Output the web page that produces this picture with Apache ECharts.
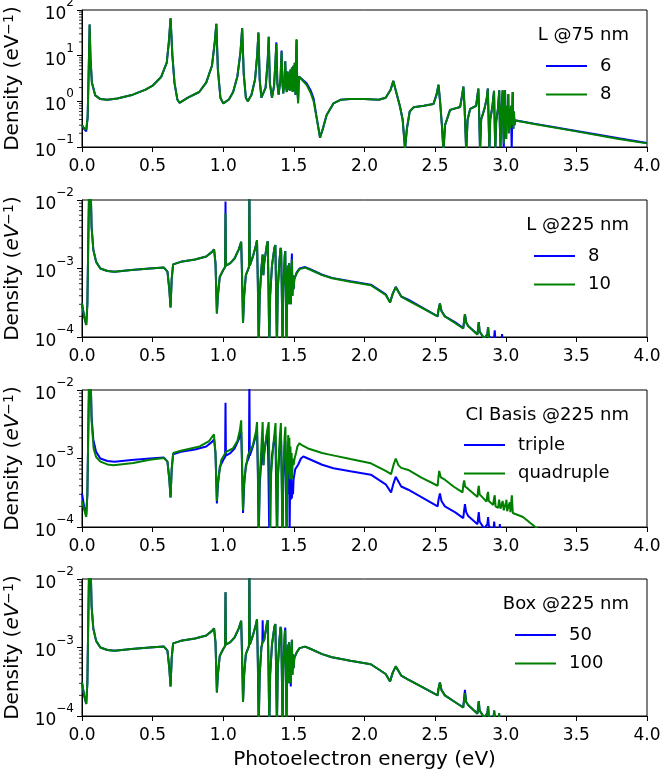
<!DOCTYPE html>
<html>
<head>
<meta charset="utf-8">
<script src="https://cdn.jsdelivr.net/npm/echarts@6/dist/echarts.min.js"></script>
<style>
    html, body { margin: 0; padding: 0; background: #fff; }
    #charts { width: 662px; height: 769px; }
</style>
</head>
<body>
<div id="charts"></div>
<script>
// minor ticks of the log axes
var minorTop = [0.2,0.3,0.4,0.5,0.6,0.7,0.8,0.9,2,3,4,5,6,7,8,9,20,30,40,50,60,70,80,90];
var minorLow = [2e-4,3e-4,4e-4,5e-4,6e-4,7e-4,8e-4,9e-4,2e-3,3e-3,4e-3,5e-3,6e-3,7e-3,8e-3,9e-3];

// panel 1 : L @75 nm
var l75_6 = [
    [0.000,0.30],[0.015,0.25],[0.030,0.22],[0.040,0.45],[0.047,4.0],[0.054,48],[0.060,9],[0.070,2.6],[0.094,1.35],[0.130,1.12],
    [0.180,1.08],[0.250,1.15],[0.360,1.40],[0.450,1.80],[0.500,2.20],[0.560,3.40],[0.600,7.0],[0.615,20],[0.627,66],[0.640,10],
    [0.655,2.5],[0.675,1.10],[0.690,0.93],[0.750,1.20],[0.830,1.60],[0.880,2.60],[0.920,6.0],[0.940,20],[0.951,50],[0.962,5],
    [0.980,1.20],[1.000,0.90],[1.040,1.10],[1.070,1.60],[1.100,3.5],[1.122,12],[1.134,40],[1.145,4],[1.160,1.2],[1.174,1.0],
    [1.200,1.4],[1.225,3],[1.240,10],[1.249,32],[1.258,3],[1.270,1.2],[1.282,1.1],[1.300,2],[1.315,8],[1.322,26],
    [1.330,2.5],[1.345,1.2],[1.360,2.2],[1.370,8],[1.376,19.5],[1.383,2.5],[1.392,1.4],[1.405,3],[1.413,13],[1.419,2.5],
    [1.425,1.5],[1.434,3],[1.439,7.5],[1.444,2.2],[1.450,1.6],[1.456,4.5],[1.461,1.8],[1.466,4],[1.471,1.7],[1.476,5],
    [1.481,1.8],[1.486,5.5],[1.491,1.6],[1.496,6],[1.501,1.7],[1.506,7],[1.511,1.4],[1.515,8],[1.519,22],[1.524,2],
    [1.530,1.0],[1.536,3.5],[1.549,3.5],[1.590,2.5],[1.620,1.7],[1.640,1.15],[1.660,0.47],[1.685,0.16],[1.705,0.25],[1.732,0.5],
    [1.780,0.9],[1.830,1.08],[1.900,1.13],[2.000,1.12],[2.100,1.08],[2.150,1.2],[2.185,1.8],[2.204,2.8],[2.220,1.8],[2.250,0.8],
    [2.270,0.4],[2.287,0.09],[2.300,0.25],[2.320,0.6],[2.347,0.74],[2.420,0.8],[2.488,0.87],[2.510,1.4],[2.524,2.3],[2.535,1.0],
    [2.548,0.3],[2.559,0.08],[2.570,0.3],[2.606,0.65],[2.677,0.75],[2.692,1.4],[2.700,2.1],[2.708,0.8],[2.720,0.08],[2.730,0.4],
    [2.748,0.68],[2.790,0.8],[2.806,1.9],[2.812,0.5],[2.818,0.08],[2.826,0.4],[2.850,0.7],[2.866,1.2],[2.873,1.9],[2.878,0.5],
    [2.884,0.08],[2.890,0.4],[2.905,0.75],[2.917,1.7],[2.921,0.4],[2.926,0.08],[2.932,0.35],[2.945,0.7],[2.954,1.75],[2.958,0.3],
    [2.963,0.1],[2.968,0.5],[2.978,1.75],[2.982,0.3],[2.986,0.08],[2.990,0.6],[2.995,1.75],[2.999,0.3],[3.003,0.15],[3.008,0.8],
    [3.013,0.35],[3.018,1.45],[3.022,0.2],[3.027,0.7],[3.032,0.25],[3.037,0.8],[3.042,0.08],[3.049,1.6],[3.054,0.25],[3.058,0.6],
    [3.062,0.3],[3.066,0.385],[3.200,0.325],[3.500,0.225],[3.800,0.155],[4.000,0.123]
];
var l75_8 = [
    [0.000,0.30],[0.015,0.26],[0.030,0.24],[0.040,0.45],[0.047,4.0],[0.054,48],[0.060,9],[0.070,2.6],[0.094,1.35],[0.130,1.12],
    [0.180,1.08],[0.250,1.15],[0.360,1.40],[0.450,1.80],[0.500,2.20],[0.560,3.40],[0.600,7.0],[0.615,20],[0.627,66],[0.640,10],
    [0.655,2.5],[0.675,1.10],[0.690,0.93],[0.750,1.20],[0.830,1.60],[0.880,2.60],[0.920,6.0],[0.940,20],[0.951,50],[0.962,5],
    [0.980,1.20],[1.000,0.90],[1.040,1.10],[1.070,1.60],[1.100,3.5],[1.122,12],[1.134,40],[1.145,4],[1.160,1.2],[1.174,1.0],
    [1.200,1.4],[1.225,3],[1.240,10],[1.249,32],[1.258,3],[1.270,1.2],[1.282,1.1],[1.300,2],[1.315,8],[1.322,26],
    [1.330,2.5],[1.345,1.2],[1.360,2.2],[1.370,8],[1.376,18],[1.383,2.5],[1.392,1.4],[1.405,3],[1.413,12],[1.419,2.5],
    [1.425,1.5],[1.434,3],[1.439,7.5],[1.444,2.2],[1.450,1.6],[1.456,4.5],[1.461,1.8],[1.466,4],[1.471,1.7],[1.476,5],
    [1.481,1.8],[1.486,5.5],[1.491,1.6],[1.496,6],[1.501,1.7],[1.506,7],[1.511,1.4],[1.515,8],[1.519,23],[1.524,2],
    [1.530,0.9],[1.536,3.5],[1.549,3.4],[1.590,2.3],[1.620,1.5],[1.640,1.0],[1.660,0.45],[1.685,0.16],[1.705,0.25],[1.732,0.5],
    [1.780,0.9],[1.830,1.08],[1.900,1.13],[2.000,1.12],[2.100,1.08],[2.150,1.2],[2.185,1.8],[2.204,2.8],[2.220,1.8],[2.250,0.8],
    [2.270,0.4],[2.287,0.09],[2.300,0.25],[2.320,0.6],[2.347,0.74],[2.420,0.8],[2.488,0.87],[2.510,1.4],[2.524,2.3],[2.535,1.0],
    [2.548,0.3],[2.559,0.08],[2.570,0.3],[2.606,0.65],[2.677,0.75],[2.692,1.4],[2.700,2.1],[2.708,0.8],[2.720,0.08],[2.730,0.4],
    [2.748,0.68],[2.790,0.8],[2.806,1.9],[2.812,0.5],[2.818,0.08],[2.826,0.4],[2.850,0.7],[2.866,1.2],[2.873,1.9],[2.878,0.5],
    [2.884,0.08],[2.890,0.4],[2.905,0.75],[2.917,1.7],[2.921,0.4],[2.926,0.08],[2.932,0.35],[2.945,0.7],[2.954,1.75],[2.958,0.3],
    [2.963,0.1],[2.968,0.5],[2.978,1.75],[2.982,0.3],[2.986,0.12],[2.990,0.6],[2.995,1.75],[2.999,0.3],[3.003,0.15],[3.008,0.8],
    [3.013,0.35],[3.018,1.45],[3.022,0.2],[3.027,0.7],[3.032,0.25],[3.037,0.8],[3.042,0.3],[3.049,1.6],[3.054,0.25],[3.058,0.6],
    [3.062,0.3],[3.066,0.38],[3.200,0.32],[3.500,0.22],[3.800,0.15],[4.000,0.12]
];

// panel 2 : L @225 nm
var l225_8 = [
    [0.000,3.1e-4],[0.015,2.0e-4],[0.030,1.5e-4],[0.038,3.0e-4],[0.045,3.0e-3],[0.052,2.5e-2],[0.060,2.0e-2],[0.068,4.0e-3],[0.080,1.9e-3],[0.100,1.25e-3],
    [0.130,1.0e-3],[0.180,9.2e-4],[0.230,9.0e-4],[0.350,9.5e-4],[0.480,1.0e-3],[0.580,1.03e-3],[0.605,9.0e-4],[0.618,5.0e-4],[0.627,2.7e-4],[0.635,7.0e-4],
    [0.645,1.15e-3],[0.700,1.25e-3],[0.800,1.35e-3],[0.880,1.5e-3],[0.920,1.75e-3],[0.935,1.9e-3],[0.945,1.2e-3],[0.955,2.2e-4],[0.962,4.0e-4],[0.975,7.5e-4],
    [1.000,9.5e-4],[1.013,1.05e-3],[1.016,9.5e-3],[1.019,1.1e-3],[1.050,1.2e-3],[1.080,1.4e-3],[1.110,1.9e-3],[1.127,2.45e-3],[1.133,8.0e-4],[1.140,1.6e-4],
    [1.148,4.0e-4],[1.160,8.0e-4],[1.182,1.05e-3],[1.185,1.5e-2],[1.188,1.1e-3],[1.210,1.5e-3],[1.232,2.2e-3],[1.239,2.6e-3],[1.245,6.0e-4],[1.251,7.0e-5],
    [1.258,4.0e-4],[1.270,1.0e-3],[1.279,1.6e-3],[1.284,8.0e-4],[1.290,1.2e-3],[1.310,2.3e-3],[1.315,2.5e-3],[1.320,6.0e-4],[1.326,7.0e-5],[1.332,4.0e-4],
    [1.345,1.1e-3],[1.362,2.0e-3],[1.369,2.2e-3],[1.374,5.0e-4],[1.380,7.0e-5],[1.386,5.0e-4],[1.398,1.3e-3],[1.406,2.0e-3],[1.410,1.8e-3],[1.415,4.0e-4],
    [1.420,7.0e-5],[1.425,5.0e-4],[1.435,1.5e-3],[1.439,1.8e-3],[1.443,5.0e-4],[1.448,8.0e-5],[1.452,6.0e-4],[1.458,1.1e-3],[1.462,3.0e-4],[1.466,1.2e-3],
    [1.470,4.0e-4],[1.474,1.0e-3],[1.478,3.0e-4],[1.482,9.0e-4],[1.486,1.65e-3],[1.490,4.0e-4],[1.494,8.0e-4],[1.498,5.0e-4],[1.503,7.0e-4],[1.520,8.8e-4],
    [1.540,1.0e-3],[1.580,1.05e-3],[1.620,9.7e-4],[1.700,8.1e-4],[1.770,7.3e-4],[1.900,6.5e-4],[2.045,5.8e-4],[2.150,4.2e-4],[2.181,3.2e-4],[2.200,4.3e-4],
    [2.221,5.4e-4],[2.260,3.9e-4],[2.310,3.5e-4],[2.400,2.75e-4],[2.518,2.0e-4],[2.524,2.5e-4],[2.534,3.1e-4],[2.545,2.4e-4],[2.569,2.0e-4],[2.640,1.65e-4],
    [2.699,1.35e-4],[2.705,1.7e-4],[2.711,2.15e-4],[2.720,1.65e-4],[2.734,1.45e-4],[2.800,1.1e-4],[2.805,1.4e-4],[2.809,1.65e-4],[2.815,1.2e-4],[2.847,9.5e-5],
    [2.870,1.1e-4],[2.875,1.4e-4],[2.880,1.05e-4],[2.915,8.5e-5],[2.922,1.25e-4],[2.927,9.0e-5],[2.968,8.0e-5],[2.974,1.1e-4],[2.980,7.5e-5],[3.000,6.5e-5]
];
var l225_10 = [
    [0.000,3.1e-4],[0.015,2.0e-4],[0.030,1.5e-4],[0.038,3.0e-4],[0.045,3.0e-3],[0.052,2.5e-2],[0.060,2.0e-2],[0.068,4.0e-3],[0.080,1.9e-3],[0.100,1.25e-3],
    [0.130,1.0e-3],[0.180,9.2e-4],[0.230,9.0e-4],[0.350,9.5e-4],[0.480,1.0e-3],[0.580,1.03e-3],[0.605,9.0e-4],[0.618,5.0e-4],[0.627,2.7e-4],[0.635,7.0e-4],
    [0.645,1.15e-3],[0.700,1.25e-3],[0.800,1.35e-3],[0.880,1.5e-3],[0.920,1.75e-3],[0.935,1.9e-3],[0.945,1.2e-3],[0.955,2.2e-4],[0.962,4.0e-4],[0.975,7.5e-4],
    [1.000,9.5e-4],[1.013,1.05e-3],[1.016,6.4e-3],[1.019,1.1e-3],[1.050,1.2e-3],[1.080,1.4e-3],[1.110,1.9e-3],[1.127,2.45e-3],[1.133,8.0e-4],[1.140,1.6e-4],
    [1.148,4.0e-4],[1.160,8.0e-4],[1.182,1.05e-3],[1.185,1.5e-2],[1.188,1.1e-3],[1.210,1.5e-3],[1.232,2.2e-3],[1.239,2.6e-3],[1.245,6.0e-4],[1.251,7.0e-5],
    [1.258,4.0e-4],[1.270,1.0e-3],[1.279,1.6e-3],[1.284,8.0e-4],[1.290,1.2e-3],[1.310,2.3e-3],[1.315,2.5e-3],[1.320,6.0e-4],[1.326,7.0e-5],[1.332,4.0e-4],
    [1.345,1.1e-3],[1.362,2.0e-3],[1.369,2.2e-3],[1.374,5.0e-4],[1.380,7.0e-5],[1.386,5.0e-4],[1.398,1.3e-3],[1.406,2.0e-3],[1.410,1.8e-3],[1.415,4.0e-4],
    [1.420,7.0e-5],[1.425,5.0e-4],[1.435,1.5e-3],[1.439,1.8e-3],[1.443,5.0e-4],[1.448,8.0e-5],[1.452,6.0e-4],[1.458,1.1e-3],[1.462,3.0e-4],[1.466,1.2e-3],
    [1.470,4.0e-4],[1.474,1.0e-3],[1.478,3.0e-4],[1.482,9.0e-4],[1.486,1.35e-3],[1.490,4.0e-4],[1.494,8.0e-4],[1.498,5.0e-4],[1.503,7.0e-4],[1.520,8.5e-4],
    [1.540,9.8e-4],[1.580,1.03e-3],[1.620,9.5e-4],[1.700,8.0e-4],[1.770,7.2e-4],[1.900,6.4e-4],[2.045,5.7e-4],[2.150,4.1e-4],[2.181,3.2e-4],[2.200,4.3e-4],
    [2.221,5.3e-4],[2.260,3.9e-4],[2.310,3.4e-4],[2.400,2.7e-4],[2.518,2.0e-4],[2.524,2.5e-4],[2.534,3.1e-4],[2.545,2.4e-4],[2.569,2.0e-4],[2.640,1.6e-4],
    [2.699,1.33e-4],[2.705,1.7e-4],[2.711,2.15e-4],[2.720,1.6e-4],[2.734,1.45e-4],[2.800,1.08e-4],[2.805,1.4e-4],[2.809,1.65e-4],[2.815,1.2e-4],[2.847,9.5e-5],
    [2.870,1.1e-4],[2.875,1.4e-4],[2.880,1.0e-4],[2.900,8.5e-5],[2.930,7.5e-5],[2.960,6.5e-5]
];

// panel 3 : CI basis @225 nm
var ciTriple = [
    [0.000,3.1e-4],[0.015,2.0e-4],[0.030,1.5e-4],[0.038,3.0e-4],[0.045,3.0e-3],[0.052,2.5e-2],[0.060,2.0e-2],[0.068,4.0e-3],[0.080,1.9e-3],[0.100,1.25e-3],
    [0.130,1.0e-3],[0.180,9.2e-4],[0.230,9.0e-4],[0.350,9.5e-4],[0.480,1.0e-3],[0.580,1.03e-3],[0.605,9.0e-4],[0.618,5.0e-4],[0.627,2.7e-4],[0.635,7.0e-4],
    [0.645,1.15e-3],[0.700,1.25e-3],[0.800,1.35e-3],[0.880,1.5e-3],[0.920,1.75e-3],[0.935,1.9e-3],[0.945,1.2e-3],[0.955,2.2e-4],[0.962,4.0e-4],[0.975,7.5e-4],
    [1.000,9.5e-4],[1.013,1.05e-3],[1.016,6.5e-3],[1.019,1.1e-3],[1.050,1.2e-3],[1.080,1.4e-3],[1.110,1.9e-3],[1.127,2.45e-3],[1.133,8.0e-4],[1.140,1.6e-4],
    [1.148,4.0e-4],[1.160,8.0e-4],[1.182,1.05e-3],[1.185,1.5e-2],[1.188,1.1e-3],[1.210,1.5e-3],[1.232,2.2e-3],[1.239,2.6e-3],[1.245,6.0e-4],[1.251,7.0e-5],
    [1.258,4.0e-4],[1.270,1.0e-3],[1.279,1.6e-3],[1.284,8.0e-4],[1.290,1.2e-3],[1.310,2.3e-3],[1.315,2.5e-3],[1.320,6.0e-4],[1.326,7.0e-5],[1.332,4.0e-4],
    [1.345,1.1e-3],[1.362,2.0e-3],[1.369,2.2e-3],[1.374,5.0e-4],[1.380,7.0e-5],[1.386,5.0e-4],[1.398,1.3e-3],[1.406,2.0e-3],[1.410,1.8e-3],[1.415,4.0e-4],
    [1.420,7.0e-5],[1.425,5.0e-4],[1.435,1.5e-3],[1.439,1.8e-3],[1.443,5.0e-4],[1.448,8.0e-5],[1.452,6.0e-4],[1.458,1.1e-3],[1.462,3.0e-4],[1.466,1.0e-3],
    [1.470,8.0e-5],[1.474,6.0e-4],[1.478,2.5e-4],[1.482,5.0e-4],[1.486,2.6e-4],[1.490,4.0e-4],[1.494,3.0e-4],[1.498,5.0e-4],[1.510,7.0e-4],[1.530,8.1e-4],
    [1.550,1.0e-3],[1.567,1.07e-3],[1.620,9.6e-4],[1.700,8.1e-4],[1.780,7.2e-4],[1.900,6.5e-4],[2.045,5.8e-4],[2.150,4.2e-4],[2.188,3.2e-4],[2.205,4.3e-4],
    [2.221,5.4e-4],[2.260,3.9e-4],[2.310,3.5e-4],[2.400,2.75e-4],[2.518,2.0e-4],[2.524,2.5e-4],[2.534,3.1e-4],[2.545,2.4e-4],[2.569,2.0e-4],[2.640,1.65e-4],
    [2.699,1.35e-4],[2.705,1.7e-4],[2.711,2.15e-4],[2.720,1.65e-4],[2.734,1.45e-4],[2.800,1.1e-4],[2.805,1.4e-4],[2.809,1.65e-4],[2.815,1.2e-4],[2.847,9.5e-5],
    [2.870,1.1e-4],[2.875,1.4e-4],[2.880,1.05e-4],[2.912,8.5e-5],[2.918,1.2e-4],[2.924,9.0e-5],[2.952,8.0e-5],[2.958,1.1e-4],[2.964,7.5e-5],[3.000,6.5e-5]
];
var ciQuad = [
    [0.000,2.4e-4],[0.015,1.8e-4],[0.030,1.4e-4],[0.038,3.0e-4],[0.045,3.0e-3],[0.052,2.5e-2],[0.060,2.0e-2],[0.068,3.5e-3],[0.082,1.4e-3],[0.100,1.05e-3],
    [0.130,9.0e-4],[0.180,8.2e-4],[0.223,8.0e-4],[0.364,8.6e-4],[0.480,9.6e-4],[0.580,1.02e-3],[0.605,9.0e-4],[0.618,5.0e-4],[0.627,2.7e-4],[0.635,7.0e-4],
    [0.646,1.2e-3],[0.700,1.3e-3],[0.833,1.5e-3],[0.900,1.8e-3],[0.934,2.25e-3],[0.945,1.2e-3],[0.955,2.4e-4],[0.962,4.5e-4],[0.986,9.5e-4],[1.020,1.25e-3],
    [1.068,1.4e-3],[1.100,1.8e-3],[1.118,2.6e-3],[1.127,3.6e-3],[1.133,9.0e-4],[1.140,1.75e-4],[1.148,5.0e-4],[1.174,1.1e-3],[1.209,1.55e-3],[1.232,2.5e-3],
    [1.239,3.4e-3],[1.245,8.0e-4],[1.251,7.0e-5],[1.258,5.0e-4],[1.268,1.2e-3],[1.279,3.4e-3],[1.285,8.0e-4],[1.292,1.3e-3],[1.310,2.5e-3],[1.322,3.4e-3],
    [1.327,7.0e-4],[1.333,7.0e-5],[1.339,6.0e-4],[1.355,1.6e-3],[1.370,3.3e-3],[1.376,6.0e-4],[1.382,7.0e-5],[1.388,6.0e-4],[1.400,2.0e-3],[1.408,3.3e-3],
    [1.413,6.0e-4],[1.419,7.0e-5],[1.425,6.0e-4],[1.434,2.0e-3],[1.440,2.9e-3],[1.445,6.0e-4],[1.450,8.0e-5],[1.455,7.0e-4],[1.460,2.2e-3],[1.464,6.0e-4],
    [1.468,2.0e-3],[1.472,5.0e-4],[1.476,1.5e-3],[1.480,5.0e-4],[1.484,1.2e-3],[1.488,5.0e-4],[1.492,1.0e-3],[1.498,8.0e-4],[1.505,1.0e-3],[1.515,1.2e-3],
    [1.525,1.5e-3],[1.539,1.66e-3],[1.560,1.55e-3],[1.600,1.4e-3],[1.700,1.2e-3],[1.769,1.12e-3],[1.900,9.8e-4],[2.045,8.5e-4],[2.150,6.6e-4],[2.188,5.9e-4],
    [2.205,8.0e-4],[2.221,1.0e-3],[2.240,8.0e-4],[2.260,7.3e-4],[2.310,6.8e-4],[2.400,5.3e-4],[2.518,4.0e-4],[2.524,5.5e-4],[2.529,6.6e-4],[2.540,5.3e-4],
    [2.569,4.9e-4],[2.630,3.9e-4],[2.694,3.2e-4],[2.700,4.2e-4],[2.706,4.8e-4],[2.712,3.9e-4],[2.734,3.6e-4],[2.800,2.75e-4],[2.805,3.6e-4],[2.809,4.0e-4],
    [2.815,3.0e-4],[2.864,2.35e-4],[2.870,3.0e-4],[2.875,3.25e-4],[2.880,2.4e-4],[2.911,2.1e-4],[2.918,2.7e-4],[2.922,2.9e-4],[2.928,2.0e-4],[2.946,1.9e-4],
    [2.953,2.5e-4],[2.958,2.6e-4],[2.963,1.85e-4],[2.974,1.8e-4],[2.978,2.4e-4],[2.981,2.55e-4],[2.986,1.75e-4],[2.998,1.75e-4],[3.002,2.3e-4],[3.005,2.5e-4],
    [3.010,1.7e-4],[3.016,1.7e-4],[3.022,2.1e-4],[3.028,2.3e-4],[3.033,1.65e-4],[3.040,1.65e-4],[3.043,2.9e-4],[3.046,2.9e-4],[3.050,1.6e-4],[3.122,1.4e-4],
    [3.209,1.0e-4],[3.300,7.5e-5]
];

// panel 4 : box @225 nm
var box50 = [
    [0.000,3.1e-4],[0.015,2.0e-4],[0.030,1.5e-4],[0.038,3.0e-4],[0.045,3.0e-3],[0.052,2.5e-2],[0.060,2.0e-2],[0.068,4.0e-3],[0.080,1.9e-3],[0.100,1.25e-3],
    [0.130,1.0e-3],[0.180,9.2e-4],[0.230,9.0e-4],[0.350,9.5e-4],[0.480,1.0e-3],[0.580,1.03e-3],[0.605,9.0e-4],[0.618,5.0e-4],[0.627,2.7e-4],[0.635,7.0e-4],
    [0.645,1.15e-3],[0.700,1.25e-3],[0.800,1.35e-3],[0.880,1.5e-3],[0.920,1.75e-3],[0.935,1.9e-3],[0.945,1.2e-3],[0.955,2.2e-4],[0.962,4.0e-4],[0.975,7.5e-4],
    [1.000,9.5e-4],[1.013,1.05e-3],[1.016,6.4e-3],[1.019,1.1e-3],[1.050,1.2e-3],[1.080,1.4e-3],[1.110,1.9e-3],[1.127,2.45e-3],[1.133,8.0e-4],[1.140,1.6e-4],
    [1.148,4.0e-4],[1.160,8.0e-4],[1.182,1.05e-3],[1.185,1.5e-2],[1.188,1.1e-3],[1.210,1.5e-3],[1.232,2.2e-3],[1.239,2.6e-3],[1.245,6.0e-4],[1.251,7.0e-5],
    [1.258,4.0e-4],[1.270,1.0e-3],[1.277,1.2e-3],[1.279,2.5e-3],[1.282,1.2e-3],[1.290,1.3e-3],[1.310,2.3e-3],[1.315,2.5e-3],[1.320,6.0e-4],[1.326,7.0e-5],
    [1.332,4.0e-4],[1.345,1.1e-3],[1.362,2.0e-3],[1.369,2.2e-3],[1.374,5.0e-4],[1.380,7.0e-5],[1.386,5.0e-4],[1.398,1.3e-3],[1.406,2.0e-3],[1.410,1.8e-3],
    [1.415,4.0e-4],[1.420,7.0e-5],[1.425,5.0e-4],[1.435,1.6e-3],[1.439,1.95e-3],[1.443,5.0e-4],[1.448,8.0e-5],[1.452,6.0e-4],[1.458,1.1e-3],[1.462,3.0e-4],
    [1.466,1.2e-3],[1.470,4.0e-4],[1.474,1.0e-3],[1.478,2.7e-4],[1.482,9.0e-4],[1.486,1.3e-3],[1.490,4.0e-4],[1.494,8.0e-4],[1.498,5.0e-4],[1.503,7.0e-4],
    [1.520,8.5e-4],[1.540,9.8e-4],[1.580,1.03e-3],[1.620,9.5e-4],[1.700,8.0e-4],[1.770,7.2e-4],[1.900,6.4e-4],[2.045,5.7e-4],[2.150,4.1e-4],[2.181,3.2e-4],
    [2.200,4.3e-4],[2.221,5.3e-4],[2.260,3.9e-4],[2.310,3.4e-4],[2.400,2.7e-4],[2.518,2.0e-4],[2.524,2.5e-4],[2.534,3.1e-4],[2.545,2.4e-4],[2.569,2.0e-4],
    [2.640,1.6e-4],[2.699,1.33e-4],[2.705,1.8e-4],[2.711,2.4e-4],[2.720,1.6e-4],[2.734,1.45e-4],[2.800,1.08e-4],[2.805,1.4e-4],[2.809,1.65e-4],[2.815,1.2e-4],
    [2.847,9.5e-5],[2.870,1.1e-4],[2.875,1.4e-4],[2.880,1.0e-4],[2.912,8.5e-5],[2.918,1.2e-4],[2.924,9.0e-5],[2.948,8.0e-5],[2.953,1.1e-4],[2.958,7.5e-5],
    [3.000,6.5e-5]
];
var box100 = [
    [0.000,3.1e-4],[0.015,2.0e-4],[0.030,1.5e-4],[0.038,3.0e-4],[0.045,3.0e-3],[0.052,2.5e-2],[0.060,2.0e-2],[0.068,4.0e-3],[0.080,1.9e-3],[0.100,1.25e-3],
    [0.130,1.0e-3],[0.180,9.2e-4],[0.230,9.0e-4],[0.350,9.5e-4],[0.480,1.0e-3],[0.580,1.03e-3],[0.605,9.0e-4],[0.618,5.0e-4],[0.627,2.7e-4],[0.635,7.0e-4],
    [0.645,1.15e-3],[0.700,1.25e-3],[0.800,1.35e-3],[0.880,1.5e-3],[0.920,1.75e-3],[0.935,1.9e-3],[0.945,1.2e-3],[0.955,2.2e-4],[0.962,4.0e-4],[0.975,7.5e-4],
    [1.000,9.5e-4],[1.013,1.05e-3],[1.016,6.4e-3],[1.019,1.1e-3],[1.050,1.2e-3],[1.080,1.4e-3],[1.110,1.9e-3],[1.127,2.45e-3],[1.133,8.0e-4],[1.140,1.6e-4],
    [1.148,4.0e-4],[1.160,8.0e-4],[1.182,1.05e-3],[1.185,1.5e-2],[1.188,1.1e-3],[1.210,1.5e-3],[1.232,2.2e-3],[1.239,2.6e-3],[1.245,6.0e-4],[1.251,7.0e-5],
    [1.258,4.0e-4],[1.270,1.0e-3],[1.277,1.15e-3],[1.282,1.2e-3],[1.290,1.3e-3],[1.310,2.3e-3],[1.315,2.5e-3],[1.320,6.0e-4],[1.326,7.0e-5],[1.332,4.0e-4],
    [1.345,1.1e-3],[1.362,2.0e-3],[1.369,2.2e-3],[1.374,5.0e-4],[1.380,7.0e-5],[1.386,5.0e-4],[1.398,1.3e-3],[1.406,2.0e-3],[1.410,1.8e-3],[1.415,4.0e-4],
    [1.420,7.0e-5],[1.425,5.0e-4],[1.435,1.5e-3],[1.439,1.8e-3],[1.443,5.0e-4],[1.448,8.0e-5],[1.452,6.0e-4],[1.458,1.1e-3],[1.462,3.0e-4],[1.466,1.2e-3],
    [1.470,4.0e-4],[1.474,1.0e-3],[1.478,3.0e-4],[1.482,9.0e-4],[1.486,1.3e-3],[1.490,4.0e-4],[1.494,8.0e-4],[1.498,5.0e-4],[1.503,7.0e-4],[1.520,8.5e-4],
    [1.540,9.8e-4],[1.580,1.03e-3],[1.620,9.5e-4],[1.700,8.0e-4],[1.770,7.2e-4],[1.900,6.4e-4],[2.045,5.7e-4],[2.150,4.1e-4],[2.181,3.2e-4],[2.200,4.3e-4],
    [2.221,5.3e-4],[2.260,3.9e-4],[2.310,3.4e-4],[2.400,2.7e-4],[2.518,2.0e-4],[2.524,2.5e-4],[2.534,3.1e-4],[2.545,2.4e-4],[2.569,2.0e-4],[2.640,1.6e-4],
    [2.699,1.33e-4],[2.705,1.7e-4],[2.711,2.15e-4],[2.720,1.6e-4],[2.734,1.45e-4],[2.800,1.08e-4],[2.805,1.4e-4],[2.809,1.65e-4],[2.815,1.2e-4],[2.847,9.5e-5],
    [2.870,1.1e-4],[2.875,1.4e-4],[2.880,1.0e-4],[2.912,8.5e-5],[2.918,1.2e-4],[2.924,9.0e-5],[2.948,8.0e-5],[2.953,1.1e-4],[2.958,7.5e-5],[3.000,6.5e-5]
];

// panel definitions: legend title, entries, y range
var panels = [
    {title: 'L @75 nm', names: ['6', '8'], data: [l75_6, l75_8], min: 0.1, max: 100, minor: minorTop, italic: false,
        top: 10, legendLeft: 546, legendTop: 57},
    {title: 'L @225 nm', names: ['8', '10'], data: [l225_8, l225_10], min: 1e-4, max: 1e-2, minor: minorLow, italic: true,
        top: 200, legendLeft: 534, legendTop: 247},
    {title: 'CI Basis @225 nm', names: ['triple', 'quadruple'], data: [ciTriple, ciQuad], min: 1e-4, max: 1e-2, minor: minorLow, italic: true,
        top: 390, legendLeft: 464, legendTop: 436},
    {title: 'Box @225 nm', names: ['50', '100'], data: [box50, box100], min: 1e-4, max: 1e-2, minor: minorLow, italic: true,
        top: 579, legendLeft: 515, legendTop: 626}
];
var colors = ['#0000ff', '#008000'];
var FONT = 'DejaVu Sans';

function powLabel(v) {
    var e = Math.round(Math.log(v) / Math.LN10);
    return '{b|10}{s|' + (e < 0 ? '\u2212' : '') + Math.abs(e) + '}';
}

// short outward ticks at the left spine, placed by the y scale
function renderMinor(params, api) {
    var p = api.coord([0, api.value(1)]);
    return {
        type: 'line',
        shape: {x1: p[0] - 3, y1: p[1], x2: p[0], y2: p[1]},
        style: {stroke: '#000', lineWidth: 0.8}
    };
}

function $each(arr, fn) {
    for (var i = 0; i < arr.length; i++) {
        fn(i, arr[i]);
    }
}

function initChart() {
    var myChart = echarts.init(document.getElementById('charts'), null, {renderer: 'canvas'});
    var grid = [], xAxis = [], yAxis = [], series = [], legend = [], title = [];
    var labelMap = {};

    $each(panels, function (i, p) {
        grid.push({left: 82, width: 565, top: p.top, height: 137, show: true,
            borderColor: '#000', borderWidth: 1, containLabel: false, outerBoundsMode: 'none'});

        xAxis.push({
            type: 'value', gridIndex: i, min: 0, max: 4, interval: 0.5,
            axisLine: {show: true, onZero: false, lineStyle: {color: '#000', width: 1}},
            axisTick: {show: true, length: 5, lineStyle: {color: '#000', width: 1}},
            splitLine: {show: false},
            axisLabel: {
                margin: 11, fontSize: 17, fontFamily: FONT, color: '#000',
                showMinLabel: true, showMaxLabel: true,
                formatter: function (v) { return v.toFixed(1); }
            },
            name: i === 3 ? 'Photoelectron energy (eV)' : '',
            nameLocation: 'middle', nameGap: 34,
            nameTextStyle: {fontSize: 20, fontFamily: FONT, color: '#000'}
        });

        yAxis.push({
            type: 'log', logBase: 10, gridIndex: i, min: p.min, max: p.max,
            axisLine: {show: true, lineStyle: {color: '#000', width: 1}},
            axisTick: {show: true, length: 5, lineStyle: {color: '#000', width: 1}},
            minorTick: {show: false},
            splitLine: {show: false},
            axisLabel: {
                margin: 8, showMinLabel: true, showMaxLabel: true,
                formatter: powLabel,
                rich: {
                    b: {fontSize: 17, fontFamily: FONT, color: '#000', lineHeight: 26, verticalAlign: 'bottom'},
                    s: {fontSize: 12, fontFamily: FONT, color: '#000', lineHeight: 10, verticalAlign: 'top'}
                }
            },
            name: p.italic ? '{a|Density (}{i|eV}{s|\u22121}{a|)}' : '{a|Density (eV}{s|\u22121}{a|)}',
            nameLocation: 'middle', nameGap: 58,
            nameTextStyle: {
                rich: {
                    a: {fontSize: 20, fontFamily: FONT, color: '#000'},
                    i: {fontSize: 20, fontFamily: FONT, fontStyle: 'italic', color: '#000'},
                    s: {fontSize: 14, fontFamily: FONT, color: '#000', padding: [0, 0, 8, 0]}
                }
            }
        });

        var ids = [];
        $each(p.data, function (k, arr) {
            var id = 'p' + i + '_' + k;
            labelMap[id] = p.names[k];
            ids.push(id);
            series.push({
                name: id, type: 'line', xAxisIndex: i, yAxisIndex: i,
                data: arr, showSymbol: false, symbol: 'none', clip: true,
                lineStyle: {color: colors[k], width: 2},
                itemStyle: {color: colors[k]},
                emphasis: {disabled: true}
            });
        });

        series.push({
            type: 'custom', xAxisIndex: i, yAxisIndex: i, clip: false, silent: true,
            data: p.minor.map(function (v) { return [0, v]; }),
            renderItem: renderMinor
        });

        legend.push({
            data: ids, orient: 'vertical', left: p.legendLeft, top: p.legendTop,
            padding: 0, itemGap: 10.5, itemWidth: 41, itemHeight: 2, icon: 'rect',
            selectedMode: false,
            textStyle: {fontSize: 18, fontFamily: FONT, color: '#000', padding: [0, 0, 0, 8]},
            formatter: function (name) { return labelMap[name]; }
        });

        title.push({
            text: p.title, right: 33, top: p.top + 16, padding: 0,
            textStyle: {fontSize: 18, fontFamily: FONT, fontWeight: 'normal', color: '#000'}
        });
    });

    myChart.setOption({
        animation: false,
        backgroundColor: '#fff',
        title: title,
        legend: legend,
        grid: grid,
        xAxis: xAxis,
        yAxis: yAxis,
        series: series
    });
}

initChart();
</script>
</body>
</html>
